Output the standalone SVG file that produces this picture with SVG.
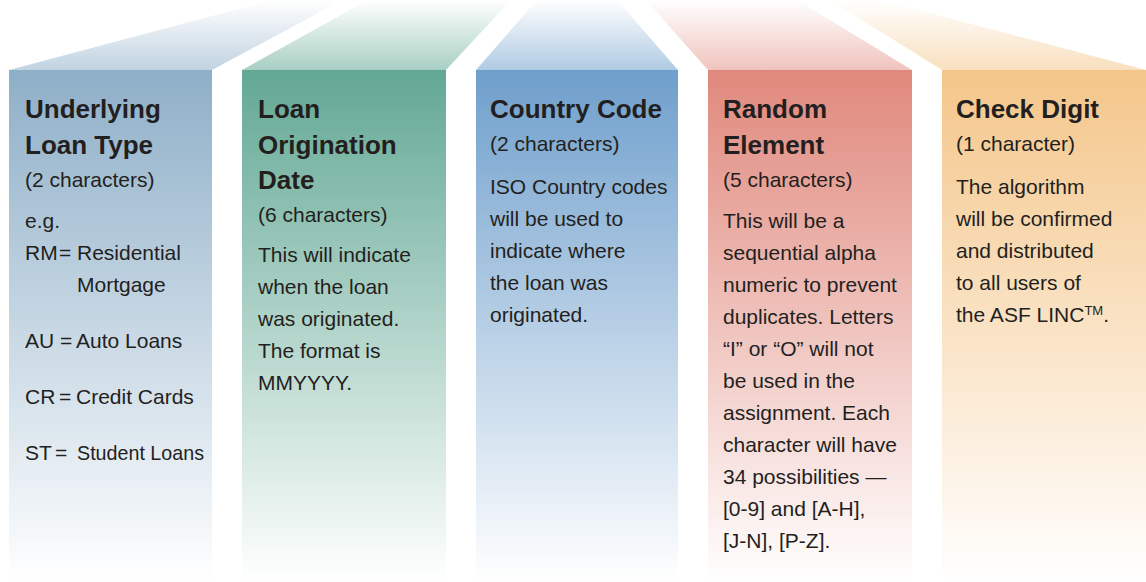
<svg xmlns="http://www.w3.org/2000/svg" width="1146" height="582" viewBox="0 0 1146 582">
<defs>
<style>
.h{font-family:"Liberation Sans",Arial,sans-serif;font-weight:bold;font-size:26px;fill:#231f20}
.t{font-family:"Liberation Sans",Arial,sans-serif;font-size:21px;fill:#231f20}
</style>
<linearGradient id="c1" x1="0" y1="70" x2="0" y2="582" gradientUnits="userSpaceOnUse"><stop offset="0" stop-color="#8eafc8"/><stop offset="1" stop-color="#ffffff"/></linearGradient>
<linearGradient id="c2" x1="0" y1="70" x2="0" y2="582" gradientUnits="userSpaceOnUse"><stop offset="0" stop-color="#62a893"/><stop offset="1" stop-color="#ffffff"/></linearGradient>
<linearGradient id="c3" x1="0" y1="70" x2="0" y2="582" gradientUnits="userSpaceOnUse"><stop offset="0" stop-color="#6f9fcc"/><stop offset="1" stop-color="#ffffff"/></linearGradient>
<linearGradient id="c4" x1="0" y1="70" x2="0" y2="582" gradientUnits="userSpaceOnUse"><stop offset="0" stop-color="#e0887c"/><stop offset="1" stop-color="#ffffff"/></linearGradient>
<linearGradient id="c5" x1="0" y1="70" x2="0" y2="582" gradientUnits="userSpaceOnUse"><stop offset="0" stop-color="#f4c68a"/><stop offset="1" stop-color="#ffffff"/></linearGradient>
<linearGradient id="f1" x1="0" y1="70" x2="0" y2="0" gradientUnits="userSpaceOnUse"><stop offset="0" stop-color="#8eafc8" stop-opacity="0.55"/><stop offset="1" stop-color="#8eafc8" stop-opacity="0"/></linearGradient>
<linearGradient id="f2" x1="0" y1="70" x2="0" y2="0" gradientUnits="userSpaceOnUse"><stop offset="0" stop-color="#62a893" stop-opacity="0.55"/><stop offset="1" stop-color="#62a893" stop-opacity="0"/></linearGradient>
<linearGradient id="f3" x1="0" y1="70" x2="0" y2="0" gradientUnits="userSpaceOnUse"><stop offset="0" stop-color="#6f9fcc" stop-opacity="0.55"/><stop offset="1" stop-color="#6f9fcc" stop-opacity="0"/></linearGradient>
<linearGradient id="f4" x1="0" y1="70" x2="0" y2="0" gradientUnits="userSpaceOnUse"><stop offset="0" stop-color="#e0887c" stop-opacity="0.5"/><stop offset="1" stop-color="#e0887c" stop-opacity="0"/></linearGradient>
<linearGradient id="f5" x1="0" y1="70" x2="0" y2="0" gradientUnits="userSpaceOnUse"><stop offset="0" stop-color="#f4c68a" stop-opacity="0.55"/><stop offset="1" stop-color="#f4c68a" stop-opacity="0"/></linearGradient>
</defs>
<rect width="1146" height="582" fill="#ffffff"/>

<g id="col1">
<polygon points="9,70 212,70 342,0 272,0" fill="url(#f1)"/>
<rect x="9" y="70" width="203" height="512" fill="url(#c1)"/>
<text class="h" x="25" y="118">Underlying</text>
<text class="h" x="25" y="154">Loan Type</text>
<text class="t" x="25" y="187">(2 characters)</text>
<text class="t" x="25" y="228">e.g.</text>
<text class="t" x="25" y="260">RM</text><text class="t" x="59" y="260">=</text><text class="t" x="77" y="260">Residential</text>
<text class="t" x="77" y="292">Mortgage</text>
<text class="t" x="25" y="348">AU</text><text class="t" x="60" y="348">=</text><text class="t" x="76" y="348">Auto Loans</text>
<text class="t" x="25" y="404">CR</text><text class="t" x="59" y="404">=</text><text class="t" x="76" y="404">Credit Cards</text>
<text class="t" x="25" y="460">ST</text><text class="t" x="55" y="460">=</text><text class="t" x="77" y="460" textLength="127" lengthAdjust="spacingAndGlyphs">Student Loans</text>
</g>

<g id="col2">
<polygon points="242,70 446,70 511,0 368,0" fill="url(#f2)"/>
<rect x="242" y="70" width="204" height="512" fill="url(#c2)"/>
<text class="h" x="258" y="118">Loan</text>
<text class="h" x="258" y="154">Origination</text>
<text class="h" x="258" y="189">Date</text>
<text class="t" x="258" y="222">(6 characters)</text>
<text class="t" x="258" y="262">This will indicate</text>
<text class="t" x="258" y="294">when the loan</text>
<text class="t" x="258" y="326">was originated.</text>
<text class="t" x="258" y="358">The format is</text>
<text class="t" x="258" y="390">MMYYYY.</text>
</g>

<g id="col3">
<polygon points="476,70 678,70 617,0 537,0" fill="url(#f3)"/>
<rect x="476" y="70" width="202" height="512" fill="url(#c3)"/>
<text class="h" x="490" y="118">Country Code</text>
<text class="t" x="490" y="151">(2 characters)</text>
<text class="t" x="490" y="194">ISO Country codes</text>
<text class="t" x="490" y="226">will be used to</text>
<text class="t" x="490" y="258">indicate where</text>
<text class="t" x="490" y="290">the loan was</text>
<text class="t" x="490" y="322">originated.</text>
</g>

<g id="col4">
<polygon points="708,70 912,70 797,0 646,0" fill="url(#f4)"/>
<rect x="708" y="70" width="204" height="512" fill="url(#c4)"/>
<text class="h" x="723" y="118">Random</text>
<text class="h" x="723" y="154">Element</text>
<text class="t" x="723" y="187">(5 characters)</text>
<text class="t" x="723" y="228">This will be a</text>
<text class="t" x="723" y="260">sequential alpha</text>
<text class="t" x="723" y="292">numeric to prevent</text>
<text class="t" x="723" y="324">duplicates. Letters</text>
<text class="t" x="723" y="356">“I” or “O” will not</text>
<text class="t" x="723" y="388">be used in the</text>
<text class="t" x="723" y="420">assignment. Each</text>
<text class="t" x="723" y="452">character will have</text>
<text class="t" x="723" y="484">34 possibilities —</text>
<text class="t" x="723" y="516">[0-9] and [A-H],</text>
<text class="t" x="723" y="548">[J-N], [P-Z].</text>
</g>

<g id="col5">
<polygon points="942,70 1146,70 880,0 830,0" fill="url(#f5)"/>
<rect x="942" y="70" width="204" height="512" fill="url(#c5)"/>
<text class="h" x="956" y="118">Check Digit</text>
<text class="t" x="956" y="151">(1 character)</text>
<text class="t" x="956" y="194">The algorithm</text>
<text class="t" x="956" y="226">will be confirmed</text>
<text class="t" x="956" y="258">and distributed</text>
<text class="t" x="956" y="290">to all users of</text>
<text class="t" x="956" y="322">the ASF LINC<tspan font-size="13" dy="-7">TM</tspan><tspan dy="7">.</tspan></text>
</g>

<g id="connectors"/>
</svg>
